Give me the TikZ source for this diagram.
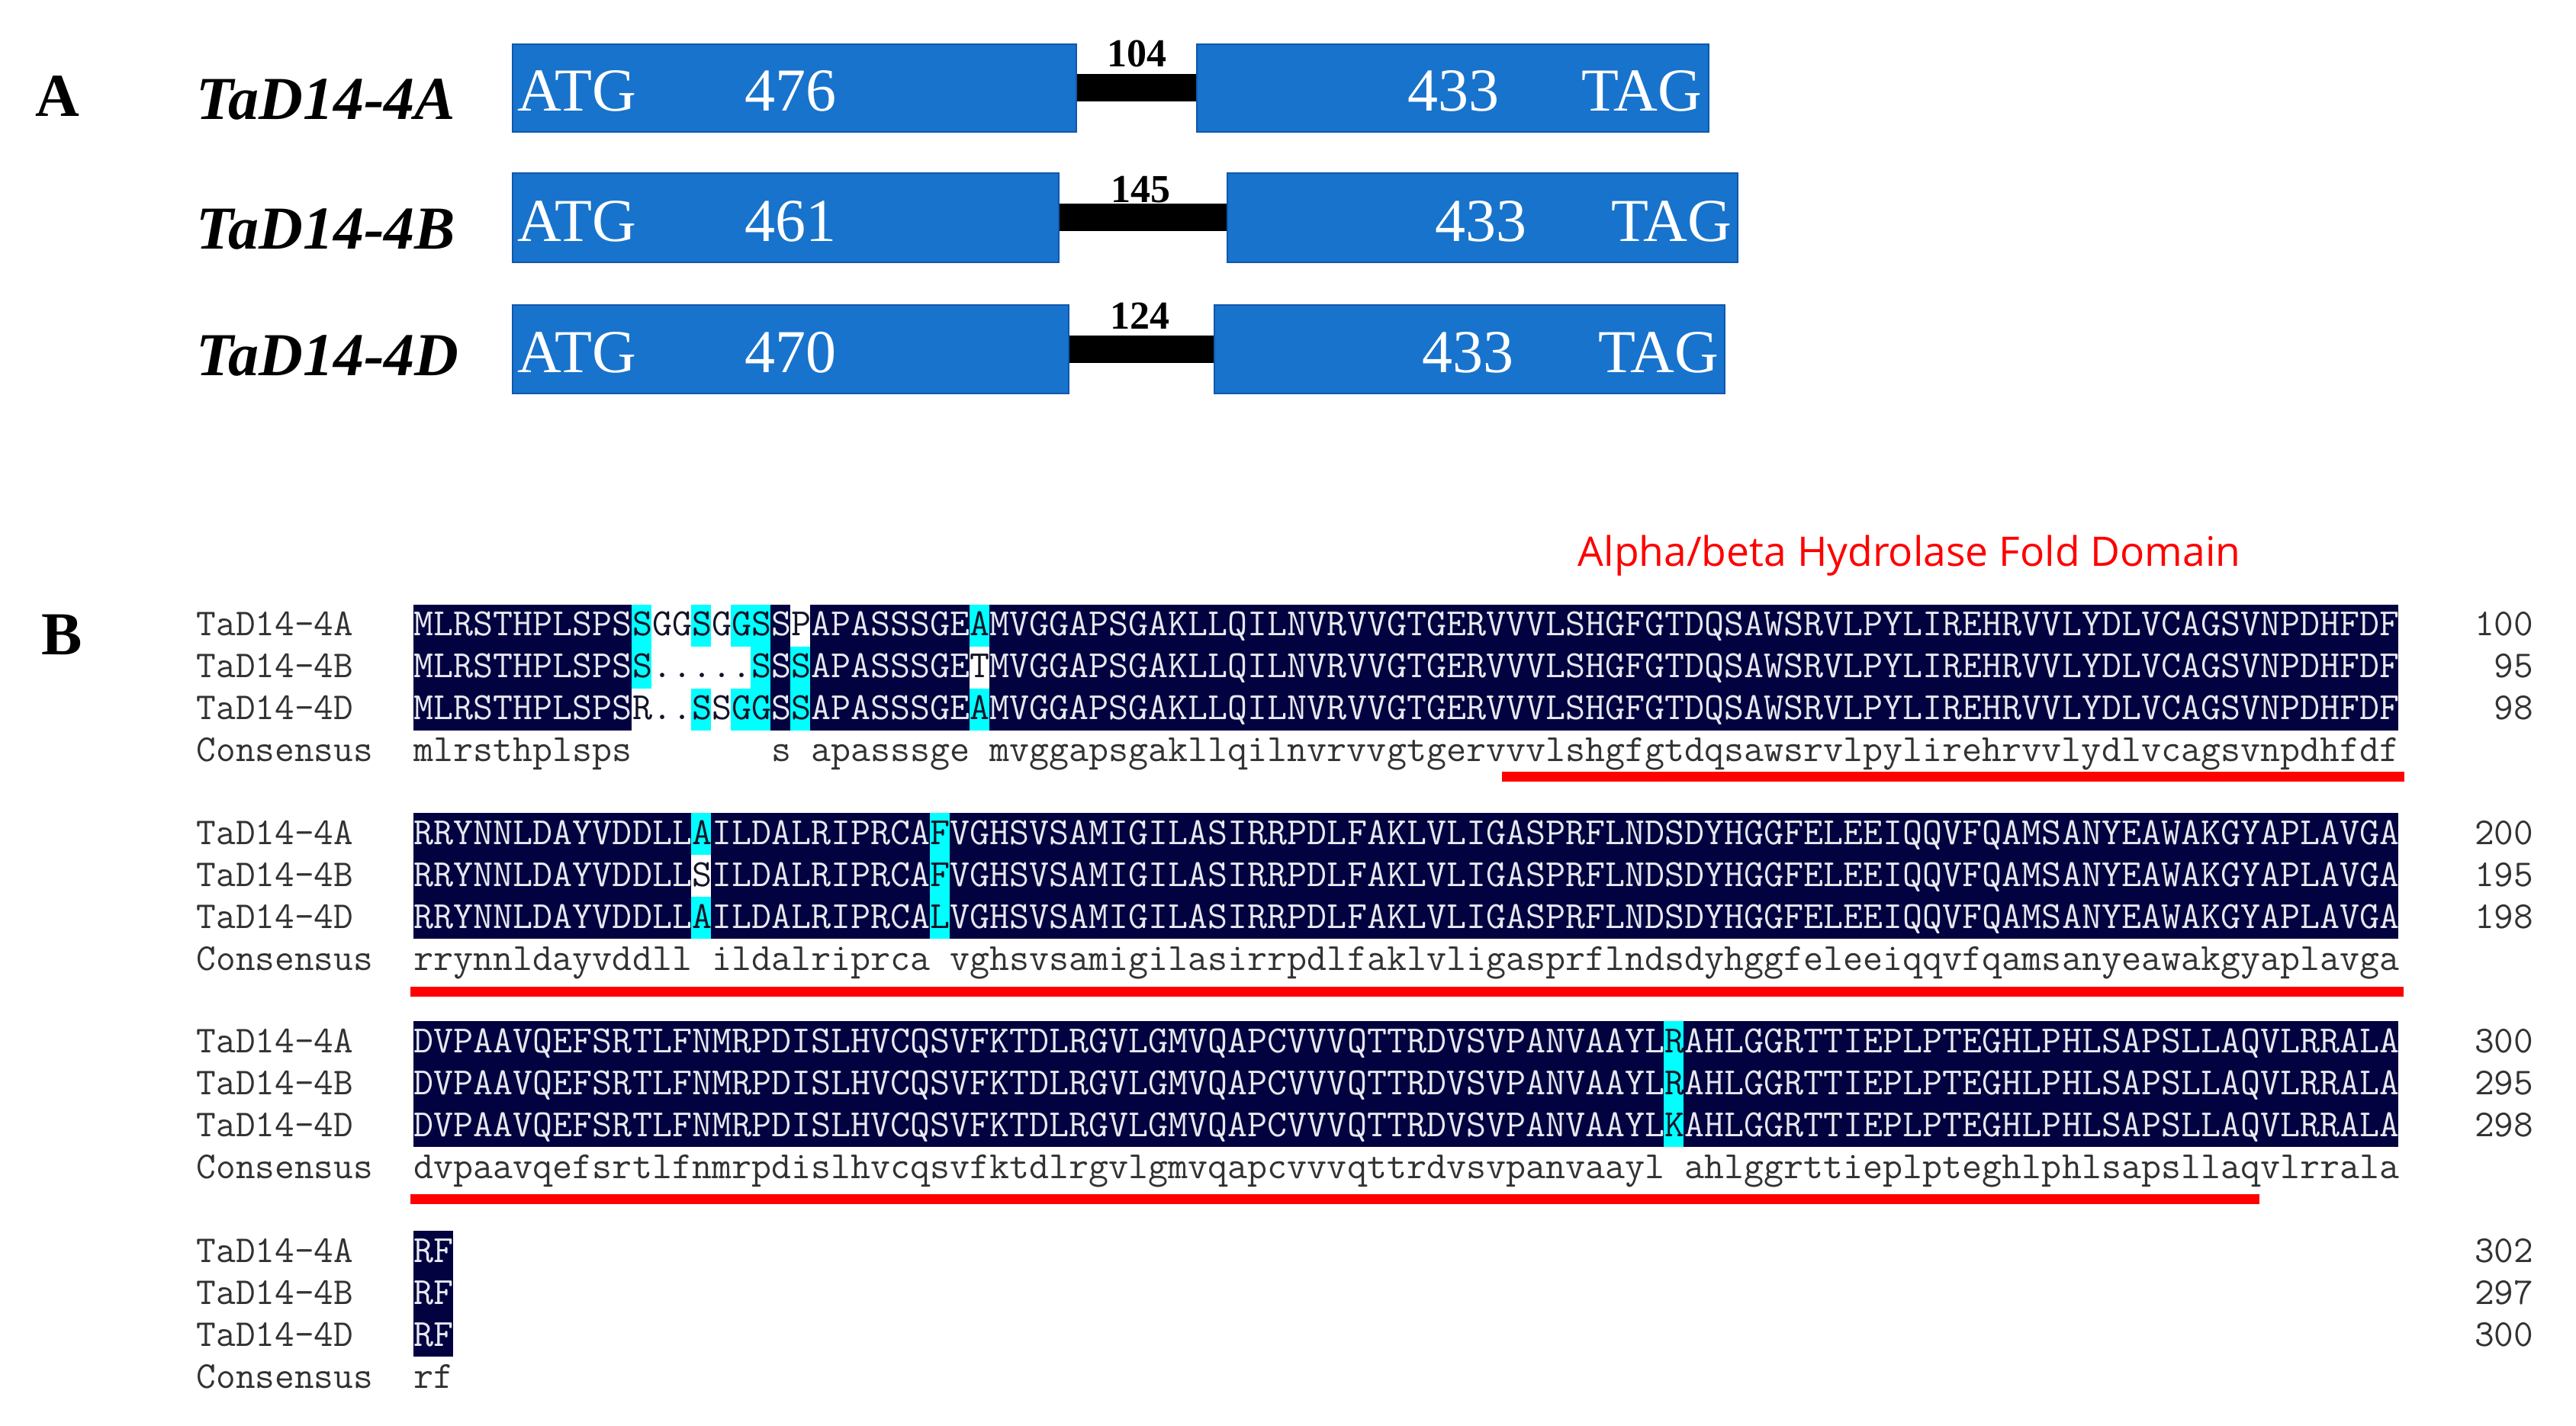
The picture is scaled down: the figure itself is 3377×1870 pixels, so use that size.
\documentclass[tikz,border=0pt]{standalone}
\usepackage{fontspec}
\setmainfont{Liberation Serif}
\newfontfamily\titlefont{Open Sans}
\usetikzlibrary{fit}
\definecolor{exonblue}{RGB}{24,115,204}
\definecolor{exonedge}{RGB}{16,88,170}
\definecolor{navy}{RGB}{2,2,64}
\definecolor{hlcyan}{RGB}{0,255,255}
\definecolor{seqlight}{RGB}{232,232,240}
\definecolor{seqdk}{RGB}{20,20,40}
\definecolor{lbl}{RGB}{50,50,50}
\definecolor{domred}{RGB}{255,0,0}
\newcommand\dk[1]{\textcolor{seqdk}{#1}}
\newcommand\hlcell[4]{\fill[#4] ({542+(#3-1)*26.02},{#1+55*#2}) rectangle +(26.02,55);}
\begin{document}
\begin{tikzpicture}[x=0.1mm,y=-0.1mm,
  exon/.style={draw=exonedge, line width=0.2mm, fill=exonblue, inner sep=0pt},
  intronline/.style={line width=3.6mm, black},
  exontxt/.style={text=white, font=\fontsize{22.76pt}{26pt}\selectfont, inner sep=0pt},
  genelbl/.style={font=\fontsize{22.76pt}{26pt}\selectfont\bfseries\itshape, inner sep=0pt, anchor=base west},
  panel/.style={font=\fontsize{22.76pt}{26pt}\selectfont\bfseries, inner sep=0pt, anchor=base west},
  intlen/.style={font=\fontsize{14.8pt}{17pt}\selectfont\bfseries, inner sep=0pt, anchor=base},
  seqtxt/.style={font=\fontsize{14.38pt}{16pt}\ttfamily, text=seqlight, inner sep=0pt, anchor=base west},
  constxt/.style={font=\fontsize{14.38pt}{16pt}\ttfamily, text=lbl, inner sep=0pt, anchor=base west},
  rowlbl/.style={font=\fontsize{14.2pt}{16pt}\ttfamily, text=lbl, inner sep=0pt, anchor=base west},
  numtxt/.style={font=\fontsize{14.2pt}{16pt}\ttfamily, text=lbl, inner sep=0pt, anchor=base east},
  domline/.style={line width=1.3mm, domred},
  darkbox/.style={fill=navy}
]
\useasboundingbox (0,0) rectangle (3377,1870);

% ---------------- Panel A ----------------
\node[panel] (pA) at (46,153) {A};

\node[genelbl] (gA) at (257,157) {TaD14-4A};
\node[genelbl] (gB) at (257,327) {TaD14-4B};
\node[genelbl] (gD) at (257,493) {TaD14-4D};

% row A
\node[exon, fit={(672,58) (1411,173)}] (a1) {};
\node[exon, fit={(1569,58) (2240,173)}] (a2) {};
\draw[intronline] (a1.east) -- (a2.west);
\node[intlen] (ai) at (1490,88) {104};
\node[exontxt, anchor=base west] (a1s) at (678,146) {ATG};
\node[exontxt, anchor=base west] (a1n) at (976,146) {476};
\node[exontxt, anchor=base east] (a2n) at (1966,146) {433};
\node[exontxt, anchor=base east] (a2e) at (2232,146) {TAG};

% row B
\node[exon, fit={(672,227) (1388,344)}] (b1) {};
\node[exon, fit={(1609,227) (2278,344)}] (b2) {};
\draw[intronline] (b1.east) -- (b2.west);
\node[intlen] (bi) at (1495,266) {145};
\node[exontxt, anchor=base west] (b1s) at (678,317) {ATG};
\node[exontxt, anchor=base west] (b1n) at (976,317) {461};
\node[exontxt, anchor=base east] (b2n) at (2002,317) {433};
\node[exontxt, anchor=base east] (b2e) at (2271,317) {TAG};

% row D
\node[exon, fit={(672,400) (1401,516)}] (d1) {};
\node[exon, fit={(1592,400) (2261,516)}] (d2) {};
\draw[intronline] (d1.east) -- (d2.west);
\node[intlen] (di) at (1494,432) {124};
\node[exontxt, anchor=base west] (d1s) at (678,489) {ATG};
\node[exontxt, anchor=base west] (d1n) at (976,489) {470};
\node[exontxt, anchor=base east] (d2n) at (1985,489) {433};
\node[exontxt, anchor=base east] (d2e) at (2254,489) {TAG};

% ---------------- Panel B ----------------
\node[panel] (pB) at (54,859) {B};
\node[anchor=base west, text=domred, font=\titlefont\fontsize{15.2pt}{17pt}\selectfont, inner sep=0pt] (title) at (2068,743) {Alpha/beta Hydrolase Fold Domain};

% block backgrounds
\fill[darkbox] (542,793) rectangle (3144,958);
\fill[darkbox] (542,1066) rectangle (3144,1231);
\fill[darkbox] (542,1339) rectangle (3144,1504);
\fill[darkbox] (542,1614) rectangle (594,1779);

% block 1 highlights
\foreach \c in {13,14,16} {\foreach \r in {0,1,2} {\hlcell{793}{\r}{\c}{white}}}
\hlcell{793}{2}{12}{white}
\hlcell{793}{1}{15}{white}
\hlcell{793}{1}{17}{white}
\hlcell{793}{0}{20}{white}
\hlcell{793}{1}{29}{white}
\hlcell{793}{0}{12}{hlcyan}
\hlcell{793}{1}{12}{hlcyan}
\hlcell{793}{0}{15}{hlcyan}
\hlcell{793}{2}{15}{hlcyan}
\hlcell{793}{0}{17}{hlcyan}
\hlcell{793}{2}{17}{hlcyan}
\foreach \r in {0,1,2} {\hlcell{793}{\r}{18}{hlcyan}}
\hlcell{793}{1}{20}{hlcyan}
\hlcell{793}{2}{20}{hlcyan}
\hlcell{793}{0}{29}{hlcyan}
\hlcell{793}{2}{29}{hlcyan}

% block 2 highlights
\hlcell{1066}{0}{15}{hlcyan}
\hlcell{1066}{1}{15}{white}
\hlcell{1066}{2}{15}{hlcyan}
\foreach \r in {0,1,2} {\hlcell{1066}{\r}{27}{hlcyan}}

% block 3 highlights
\foreach \r in {0,1,2} {\hlcell{1339}{\r}{64}{hlcyan}}

% block 1 text
\node[rowlbl] (l1a) at (257,834) {TaD14-4A};
\node[rowlbl] (l1b) at (257,889) {TaD14-4B};
\node[rowlbl] (l1d) at (257,944) {TaD14-4D};
\node[rowlbl] (l1c) at (257,999) {Consensus};
\node[seqtxt] (s1a) at (542,834) {MLRSTHPLSPS\dk{SGGSGGS}S\dk{P}APASSSGE\dk{A}MVGGAPSGAKLLQILNVRVVGTGERVVVLSHGFGTDQSAWSRVLPYLIREHRVVLYDLVCAGSVNPDHFDF};
\node[seqtxt] (s1b) at (542,889) {MLRSTHPLSPS\dk{S.....S}S\dk{S}APASSSGE\dk{T}MVGGAPSGAKLLQILNVRVVGTGERVVVLSHGFGTDQSAWSRVLPYLIREHRVVLYDLVCAGSVNPDHFDF};
\node[seqtxt] (s1d) at (542,944) {MLRSTHPLSPS\dk{R..SSGG}S\dk{S}APASSSGE\dk{A}MVGGAPSGAKLLQILNVRVVGTGERVVVLSHGFGTDQSAWSRVLPYLIREHRVVLYDLVCAGSVNPDHFDF};
\node[constxt] (s1c) at (542,999) {mlrsthplsps\hphantom{xxxxxxx}s\hphantom{x}apasssge\hphantom{x}mvggapsgakllqilnvrvvgtgervvvlshgfgtdqsawsrvlpylirehrvvlydlvcagsvnpdhfdf};
\node[numtxt] (n1a) at (3322,834) {100};
\node[numtxt] (n1b) at (3322,889) {95};
\node[numtxt] (n1d) at (3322,944) {98};

% block 2 text
\node[rowlbl] (l2a) at (257,1107) {TaD14-4A};
\node[rowlbl] (l2b) at (257,1162) {TaD14-4B};
\node[rowlbl] (l2d) at (257,1217) {TaD14-4D};
\node[rowlbl] (l2c) at (257,1272) {Consensus};
\node[seqtxt] (s2a) at (542,1107) {RRYNNLDAYVDDLL\dk{A}ILDALRIPRCA\dk{F}VGHSVSAMIGILASIRRPDLFAKLVLIGASPRFLNDSDYHGGFELEEIQQVFQAMSANYEAWAKGYAPLAVGA};
\node[seqtxt] (s2b) at (542,1162) {RRYNNLDAYVDDLL\dk{S}ILDALRIPRCA\dk{F}VGHSVSAMIGILASIRRPDLFAKLVLIGASPRFLNDSDYHGGFELEEIQQVFQAMSANYEAWAKGYAPLAVGA};
\node[seqtxt] (s2d) at (542,1217) {RRYNNLDAYVDDLL\dk{A}ILDALRIPRCA\dk{L}VGHSVSAMIGILASIRRPDLFAKLVLIGASPRFLNDSDYHGGFELEEIQQVFQAMSANYEAWAKGYAPLAVGA};
\node[constxt] (s2c) at (542,1272) {rrynnldayvddll\hphantom{x}ildalriprca\hphantom{x}vghsvsamigilasirrpdlfaklvligasprflndsdyhggfeleeiqqvfqamsanyeawakgyaplavga};
\node[numtxt] (n2a) at (3322,1107) {200};
\node[numtxt] (n2b) at (3322,1162) {195};
\node[numtxt] (n2d) at (3322,1217) {198};

% block 3 text
\node[rowlbl] (l3a) at (257,1380) {TaD14-4A};
\node[rowlbl] (l3b) at (257,1435) {TaD14-4B};
\node[rowlbl] (l3d) at (257,1490) {TaD14-4D};
\node[rowlbl] (l3c) at (257,1545) {Consensus};
\node[seqtxt] (s3a) at (542,1380) {DVPAAVQEFSRTLFNMRPDISLHVCQSVFKTDLRGVLGMVQAPCVVVQTTRDVSVPANVAAYL\dk{R}AHLGGRTTIEPLPTEGHLPHLSAPSLLAQVLRRALA};
\node[seqtxt] (s3b) at (542,1435) {DVPAAVQEFSRTLFNMRPDISLHVCQSVFKTDLRGVLGMVQAPCVVVQTTRDVSVPANVAAYL\dk{R}AHLGGRTTIEPLPTEGHLPHLSAPSLLAQVLRRALA};
\node[seqtxt] (s3d) at (542,1490) {DVPAAVQEFSRTLFNMRPDISLHVCQSVFKTDLRGVLGMVQAPCVVVQTTRDVSVPANVAAYL\dk{K}AHLGGRTTIEPLPTEGHLPHLSAPSLLAQVLRRALA};
\node[constxt] (s3c) at (542,1545) {dvpaavqefsrtlfnmrpdislhvcqsvfktdlrgvlgmvqapcvvvqttrdvsvpanvaayl\hphantom{x}ahlggrttieplpteghlphlsapsllaqvlrrala};
\node[numtxt] (n3a) at (3322,1380) {300};
\node[numtxt] (n3b) at (3322,1435) {295};
\node[numtxt] (n3d) at (3322,1490) {298};

% block 4 text
\node[rowlbl] (l4a) at (257,1655) {TaD14-4A};
\node[rowlbl] (l4b) at (257,1710) {TaD14-4B};
\node[rowlbl] (l4d) at (257,1765) {TaD14-4D};
\node[rowlbl] (l4c) at (257,1820) {Consensus};
\node[seqtxt] (s4a) at (542,1655) {RF};
\node[seqtxt] (s4b) at (542,1710) {RF};
\node[seqtxt] (s4d) at (542,1765) {RF};
\node[constxt] (s4c) at (542,1820) {rf};
\node[numtxt] (n4a) at (3322,1655) {302};
\node[numtxt] (n4b) at (3322,1710) {297};
\node[numtxt] (n4d) at (3322,1765) {300};

% domain underlines
\coordinate (u1s) at (1969,1019);
\coordinate (u1e) at (3152,1019);
\coordinate (u2s) at (538,1300);
\coordinate (u2e) at (3151,1300);
\coordinate (u3s) at (538,1572);
\coordinate (u3e) at (2962,1572);
\draw[domline] (u1s) -- (u1e);
\draw[domline] (u2s) -- (u2e);
\draw[domline] (u3s) -- (u3e);
\end{tikzpicture}
\end{document}
